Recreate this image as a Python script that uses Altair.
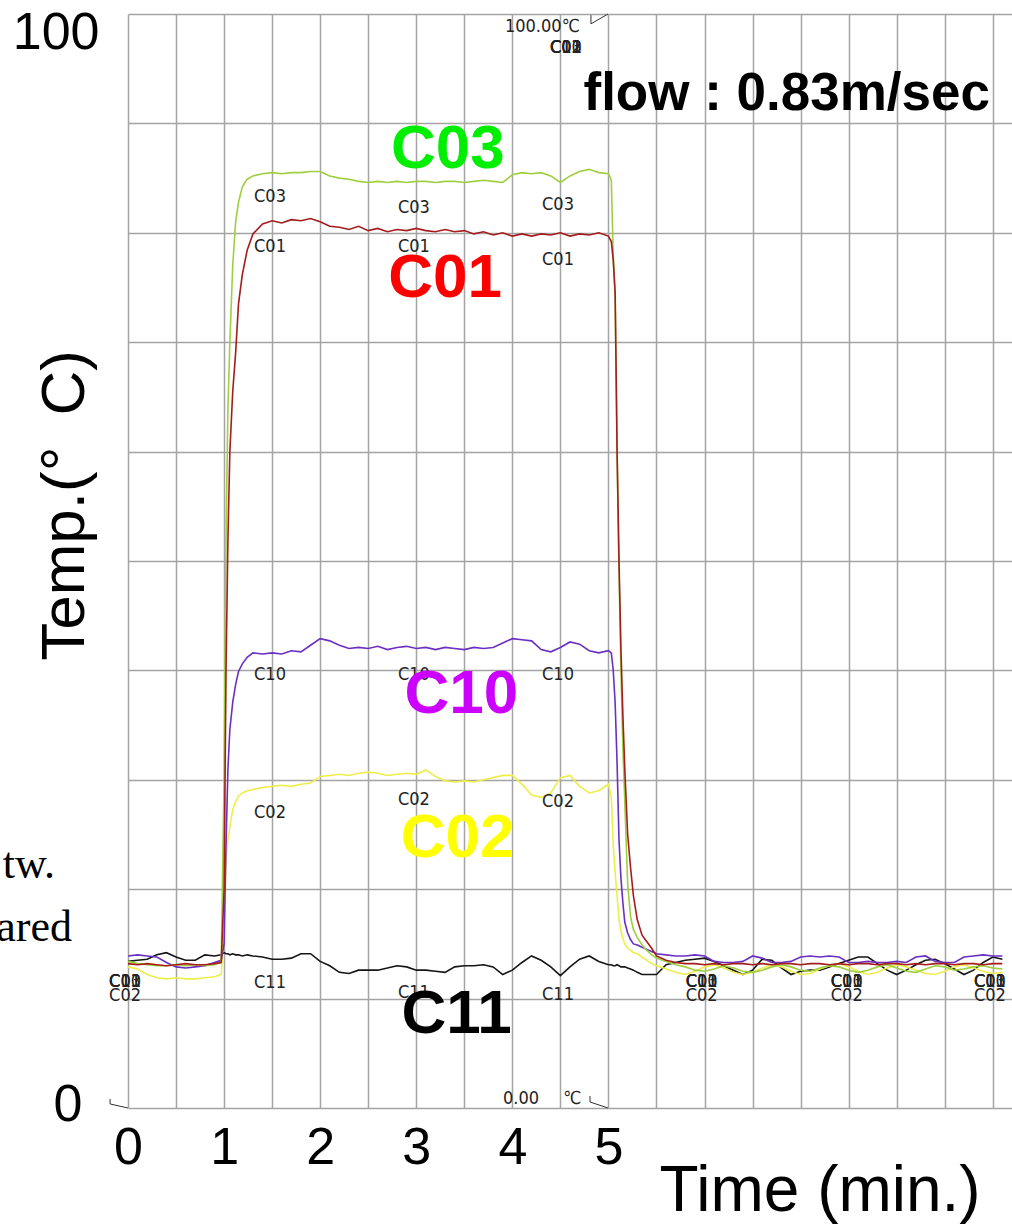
import altair as alt
import pandas as pd

# Sample times (minutes) shared by every channel
minutes = [
    0.0, 0.1, 0.2, 0.3, 0.4, 0.5, 0.6, 0.7, 0.8, 0.9,
    0.97, 1.0, 1.02, 1.04, 1.06, 1.09, 1.12, 1.15, 1.19, 1.24, 1.3,
    1.4, 1.5, 1.6, 1.7, 1.8, 1.9, 2.0, 2.1, 2.2, 2.3, 2.4, 2.5, 2.6, 2.7, 2.8, 2.9,
    3.0, 3.1, 3.2, 3.3, 3.4, 3.5, 3.6, 3.7, 3.8, 3.9, 4.0, 4.1, 4.2, 4.3, 4.4, 4.5,
    4.6, 4.7, 4.8, 4.9, 5.0,
    5.03, 5.05, 5.07, 5.09, 5.11, 5.13, 5.15, 5.17, 5.2, 5.23, 5.26, 5.3, 5.35, 5.4, 5.45,
    5.5, 5.6, 5.7, 5.8, 5.9, 6.0, 6.1, 6.2, 6.3, 6.4, 6.5, 6.6, 6.7, 6.8, 6.9,
    7.0, 7.1, 7.2, 7.3, 7.4, 7.5, 7.6, 7.7, 7.8, 7.9, 8.0, 8.1, 8.2, 8.3, 8.4,
    8.5, 8.6, 8.7, 8.8, 8.9, 9.0, 9.1,
]

# Temperatures (deg C) per thermocouple channel
c03 = [
    13.4, 13.2, 13.1, 13.0, 13.0, 13.1, 13.0, 13.1, 13.0, 13.1,
    13.3, 30.0, 52.0, 64.0, 70.0, 77.0, 81.0, 82.8, 84.2, 84.9, 85.2,
    85.4, 85.5, 85.4, 85.5, 85.5, 85.6, 85.6, 85.2, 85.0, 84.9,
    84.7, 84.6, 84.7, 84.6, 84.7, 84.6, 84.7, 84.7, 84.6, 84.7,
    84.7, 84.6, 84.7, 84.8, 84.7, 84.6, 85.3, 85.5, 85.4, 85.5,
    85.2, 84.6, 85.2, 85.6, 85.8, 85.5, 85.4,
    84.8, 78.0, 74.0, 60.0, 49.0, 40.0, 33.0, 28.0, 20.5, 17.5, 16.3, 15.6, 14.9, 14.4, 14.0,
    13.7, 13.4, 13.1, 12.9, 12.6, 12.5, 12.7, 13.0, 12.8, 12.5,
    12.4, 12.6, 12.9, 13.1, 12.9, 12.6, 12.5, 12.8, 13.0, 12.9,
    12.6, 12.4, 12.6, 12.9, 13.1, 12.8, 12.5, 12.4, 12.7, 13.0,
    12.9, 12.6, 12.7, 12.9, 13.0, 12.8, 12.7,
]
c01 = [
    13.2, 13.1, 13.2, 13.1, 13.0, 13.1, 13.2, 13.1, 13.1, 13.2,
    13.3, 20.0, 40.0, 52.0, 60.0, 65.5, 69.0, 73.5, 76.2, 78.4, 79.9,
    80.8, 81.1, 80.9, 81.2, 81.1, 81.3, 81.0, 80.6, 80.5, 80.3,
    80.6, 80.2, 80.4, 80.1, 80.3, 80.2, 80.4, 80.2, 80.1, 80.3,
    80.1, 80.2, 79.9, 80.1, 79.8, 80.0, 79.7, 79.9, 79.7, 79.9,
    79.8, 80.0, 79.7, 79.9, 79.8, 80.0, 79.7,
    79.2, 77.5, 74.5, 60.0, 50.0, 42.0, 36.0, 31.0, 25.0, 22.0, 19.4, 17.2, 15.8, 15.2, 14.6,
    13.9, 13.5, 13.3, 13.2, 13.2, 13.1, 13.2, 13.1, 13.2, 13.2,
    13.1, 13.2, 13.1, 13.2, 13.2, 13.1, 13.2, 13.2, 13.1, 13.2,
    13.1, 13.2, 13.2, 13.1, 13.2, 13.2, 13.1, 13.2, 13.1, 13.2,
    13.2, 13.1, 13.2, 13.2, 13.1, 13.2, 13.2,
]
c10 = [
    13.9, 14.0, 13.9, 13.8, 13.3, 12.9, 12.8, 12.9, 13.0, 13.3,
    13.5, 15.0, 24.0, 31.0, 34.6, 37.1, 38.7, 39.9, 40.6, 41.2, 41.6,
    41.5, 41.6, 41.5, 41.8, 41.7, 42.3, 42.9, 42.7, 42.3, 42.0,
    42.1, 42.0, 42.2, 41.9, 42.1, 42.2, 42.0, 42.1, 41.9, 42.1,
    42.0, 41.9, 42.1, 42.0, 42.1, 42.5, 42.9, 42.8, 42.7, 41.9,
    41.7, 42.1, 42.6, 42.4, 41.8, 41.6, 41.8,
    41.6, 40.0, 37.0, 31.5, 24.5, 21.0, 18.8, 17.0, 16.0, 15.4, 15.0, 14.9, 14.7, 14.5, 14.3,
    14.1, 14.0, 13.9, 13.9, 14.0, 13.9, 13.4, 13.3, 13.3, 13.4,
    13.9, 13.7, 13.3, 13.3, 13.4, 13.8, 13.9, 13.8, 13.9, 13.8,
    13.3, 13.3, 13.4, 13.3, 13.3, 13.4, 13.3, 13.8, 13.9, 13.4,
    13.3, 13.3, 13.8, 13.9, 14.0, 13.9, 13.9,
]
c02 = [
    12.9, 12.7, 12.2, 11.9, 11.8, 11.9, 11.8, 11.8, 11.9, 12.0,
    12.2, 17.0, 22.7, 24.5, 25.7, 27.3, 28.0, 28.5, 28.8, 29.0, 29.1,
    29.3, 29.4, 29.5, 29.4, 29.6, 29.7, 30.3, 30.4, 30.5, 30.4,
    30.6, 30.7, 30.6, 30.4, 30.5, 30.6, 30.5, 30.9, 30.3, 29.9,
    29.8, 29.9, 29.8, 30.0, 30.2, 30.4, 30.4, 29.6, 28.6, 28.4,
    28.8, 30.2, 30.4, 29.4, 28.8, 29.0, 29.6,
    28.4, 24.0, 21.5, 19.4, 17.2, 16.2, 15.5, 15.0, 14.6, 14.4, 14.2, 14.1, 13.8, 13.5, 13.2,
    13.0, 12.7, 12.4, 12.2, 12.5, 12.9, 13.1, 12.8, 12.4, 12.2,
    12.4, 12.8, 13.1, 12.9, 12.5, 12.2, 12.3, 12.7, 13.0, 13.2,
    12.9, 12.5, 12.2, 12.4, 12.8, 13.1, 12.9, 12.6, 12.3, 12.2,
    12.5, 12.9, 13.1, 12.8, 12.5, 12.3, 12.4,
]
c11 = [
    13.4, 13.5, 13.6, 14.0, 14.2, 13.8, 13.5, 13.5, 14.0, 13.9,
    14.0, 14.2, 14.1, 14.1, 14.0, 14.1, 14.0, 14.0, 13.9, 14.0, 13.9,
    13.8, 13.6, 13.6, 13.7, 14.1, 14.1, 13.4, 13.0, 12.4, 12.3,
    12.6, 12.6, 12.6, 12.8, 13.0, 12.9, 12.6, 12.6, 12.5, 12.4,
    12.9, 13.0, 13.0, 13.1, 12.9, 12.2, 12.6, 13.3, 13.9, 13.5,
    12.9, 12.1, 12.9, 13.6, 13.9, 13.4, 13.1,
    13.1, 13.0, 13.0, 13.1, 13.0, 12.9, 12.9, 12.9, 12.8, 12.7, 12.6, 12.4, 12.2, 12.2, 12.2,
    12.2, 13.1, 13.3, 13.5, 13.6, 13.7, 13.4, 13.0, 12.6, 12.2,
    12.6, 13.6, 13.5, 12.8, 12.2, 12.5, 12.6, 12.6, 12.9, 13.2,
    13.5, 13.8, 13.8, 13.2, 12.6, 12.2, 12.6, 13.1, 13.5, 13.6,
    13.2, 12.7, 12.2, 12.6, 13.3, 13.8, 13.6,
]

# Drawing order (back to front) and trace colours
channels = [("C11", c11), ("C02", c02), ("C10", c10), ("C03", c03), ("C01", c01)]
trace_colors = {"C11": "#151515", "C02": "#eeee4a", "C10": "#6b2fc2",
                "C03": "#9fcf3f", "C01": "#a51c1c"}

# Big channel captions
caption_names = ["C03", "C01", "C10", "C02", "C11"]
caption_t = [3.33, 3.30, 3.47, 3.43, 3.42]
caption_temp = [85.9, 74.1, 36.1, 22.9, 6.9]
caption_colors = ["#00ee00", "#ff0000", "#cc00ff", "#ffff00", "#000000"]

# Recorder's own small channel tags along the traces
tag_names = ["C03"] * 3 + ["C01"] * 3 + ["C10"] * 3 + ["C02"] * 3 + ["C11"] * 3
tag_t = [1.478, 2.976, 4.475] * 5
tag_temp = [82.8, 81.8, 82.1, 78.2, 78.2, 77.1, 39.1, 39.1, 39.1,
            26.5, 27.7, 27.5, 11.0, 10.1, 9.9]

# Piled-up tags where all channels sit on top of one another
pile_t = [-0.031, 5.97, 7.48, 8.97]
pile_upper = ["C01", "C03", "C10", "C11"]
pile_upper_temp = 11.06
pile_lower = "C02"
pile_lower_temp = 9.78
top_pile_t = 4.558
top_pile_temp = 96.4

for name, vals in channels:
    assert len(vals) == len(minutes), name

x_scale = alt.Scale(domain=[0, 9.2], nice=False, zero=False)
y_scale = alt.Scale(domain=[0, 100], nice=False, zero=False)

GRID = "#a4a4a4"
SANS = "Liberation Sans, Arial, sans-serif"
NARROW = "Liberation Sans Narrow, DejaVu Sans Condensed, Arial Narrow, sans-serif"

x_axis = alt.Axis(
    values=[i * 0.5 for i in range(19)],
    labelExpr="datum.value <= 5 && datum.value % 1 === 0 ? format(datum.value, 'd') : ''",
    labelFont=SANS, labelFontSize=52, labelColor="#000000",
    labelBaseline="alphabetic", labelPadding=55, labelFlush=False,
    labelOverlap=False, labelBound=False,
    ticks=False, tickSize=0, domain=False,
    grid=True, gridColor=GRID, gridWidth=1.5, gridOpacity=1,
    title="Time (min.)", titleFont=SANS, titleFontSize=64, titleFontWeight="normal",
    titleColor="#000000", titleAlign="left", titleBaseline="alphabetic",
    titleX=531, titleY=102,
)
y_axis = alt.Axis(
    values=[i * 10 for i in range(11)],
    labelExpr="datum.value == 0 || datum.value == 100 ? format(datum.value, 'd') : ''",
    labelFont=SANS, labelFontSize=52, labelColor="#000000",
    labelAlign="right", labelBaseline="alphabetic",
    labelOffset={"condition": {"test": "datum.value == 100", "value": 34}, "value": 12},
    labelPadding={"condition": {"test": "datum.value == 100", "value": 29}, "value": 46},
    labelOverlap=False, labelBound=False, labelFlush=False,
    ticks=False, tickSize=0, domain=False,
    grid=True, gridColor=GRID, gridWidth=1.5, gridOpacity=1,
    title="Temp.(°\u2002C)", titleFont=SANS, titleFontSize=62, titleFontWeight="normal",
    titleColor="#000000", titleAngle=270, titleAlign="center", titleBaseline="alphabetic",
    titleX=-45, titleY=491,
)

# Every layer carries the same axis definitions so the merged axes stay intact
X_ENC = alt.X("t:Q", scale=x_scale, axis=x_axis)
Y_ENC = alt.Y("temp:Q", scale=y_scale, axis=y_axis)

layers = []
for name, vals in channels:
    df = pd.DataFrame({"t": minutes, "temp": vals})
    layers.append(
        alt.Chart(df).mark_line(color=trace_colors[name], strokeWidth=1.6,
                                interpolate="linear").encode(x=X_ENC, y=Y_ENC)
    )

# Small tags next to the traces
tags = pd.DataFrame({"t": tag_t, "temp": tag_temp, "label": tag_names})
layers.append(
    alt.Chart(tags).mark_text(font=NARROW, fontSize=18, color="#222222",
                              align="center", baseline="alphabetic")
    .encode(x=X_ENC, y=Y_ENC, text="label:N")
)

# Overlapping tags
pile_rows = []
for pt in pile_t:
    for nm in pile_upper:
        pile_rows.append({"t": pt, "temp": pile_upper_temp, "label": nm})
    pile_rows.append({"t": pt, "temp": pile_lower_temp, "label": pile_lower})
for nm in pile_upper + [pile_lower]:
    pile_rows.append({"t": top_pile_t, "temp": top_pile_temp, "label": nm})
piles = pd.DataFrame(pile_rows)
layers.append(
    alt.Chart(piles).mark_text(font=NARROW, fontSize=18, color="#222222",
                               align="center", baseline="alphabetic")
    .encode(x=X_ENC, y=Y_ENC, text="label:N")
)

# Full-scale readouts printed by the recorder
readouts = pd.DataFrame({
    "t": [3.923, 3.903, 4.527],
    "temp": [98.35, 0.37, 0.37],
    "label": ["100.00℃", "0.00", "℃"],
})
layers.append(
    alt.Chart(readouts).mark_text(font=NARROW, fontSize=18, color="#222222",
                                  align="left", baseline="alphabetic")
    .encode(x=X_ENC, y=Y_ENC, text="label:N")
)

# Scale-end markers
markers = pd.DataFrame({
    "t": [4.818, 4.818, 4.995, 4.808, 4.808, 4.995, -0.187, -0.187, 0.0],
    "temp": [99.9, 99.1, 100.0, 1.1, 0.55, 0.0, 0.82, 0.37, 0.0],
    "grp": ["a", "a", "a", "b", "b", "b", "c", "c", "c"],
    "seq": [0, 1, 2, 0, 1, 2, 0, 1, 2],
})
layers.append(
    alt.Chart(markers).mark_line(color="#333333", strokeWidth=1)
    .encode(x=X_ENC, y=Y_ENC, detail="grp:N", order="seq:Q")
)

# Big coloured channel captions
captions = pd.DataFrame({"t": caption_t, "temp": caption_temp,
                         "label": caption_names, "col": caption_colors})
layers.append(
    alt.Chart(captions).mark_text(font=SANS, fontSize=62, fontWeight="bold",
                                  align="center", baseline="alphabetic")
    .encode(x=X_ENC, y=Y_ENC, text="label:N", color=alt.Color("col:N", scale=None))
)

# Flow speed note
flow = pd.DataFrame({"t": [8.971], "temp": [91.2], "label": ["flow : 0.83m/sec"]})
layers.append(
    alt.Chart(flow).mark_text(font=SANS, fontSize=53, fontWeight="bold", color="#000000",
                              align="right", baseline="alphabetic")
    .encode(x=X_ENC, y=Y_ENC, text="label:N")
)

# Neighbouring slide text running in from the left
side = pd.DataFrame({"t": [-0.76, -0.583], "temp": [21.0, 15.3], "label": ["tw.", "ared"]})
layers.append(
    alt.Chart(side).mark_text(font="Liberation Serif, Times New Roman, serif", fontSize=44,
                              color="#000000", align="right", baseline="alphabetic")
    .encode(x=X_ENC, y=Y_ENC, text="label:N")
)

chart = (
    alt.layer(*layers)
    .properties(
        width=884, height=1094,
        autosize=alt.AutoSizeParams(type="none"),
        padding={"left": 128, "top": 14, "right": 0, "bottom": 116},
        background="#ffffff",
    )
    .configure_view(stroke=None)
)

chart.save("out.html", embed_options={"renderer": "svg", "actions": False})
